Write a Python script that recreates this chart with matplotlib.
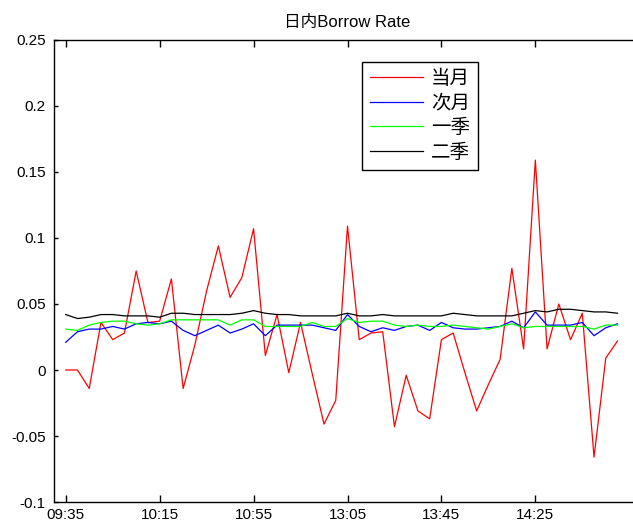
import numpy as np
import matplotlib
matplotlib.use("Agg")
import matplotlib.pyplot as plt

plt.rcParams['font.family'] = ['Liberation Sans', 'Noto Sans CJK SC', 'DejaVu Sans']

# 5-minute bars, 09:35-11:30 and 13:05-15:00
tick_pos = [0, 8, 16, 24, 32, 40]
tick_labels = ['09:35', '10:15', '10:55', '13:05', '13:45', '14:25']

cur_month = [0.000, 0.000, -0.014, 0.036, 0.023, 0.028, 0.075, 0.036, 0.037, 0.069,
             -0.014, 0.019, 0.060, 0.094, 0.055, 0.070, 0.107, 0.011, 0.042, -0.002,
             0.036, -0.003, -0.041, -0.023, 0.109, 0.023, 0.028, 0.029, -0.043, -0.004,
             -0.031, -0.037, 0.023, 0.028, -0.002, -0.031, -0.011, 0.008, 0.077, 0.016,
             0.159, 0.016, 0.050, 0.023, 0.043, -0.066, 0.009, 0.022]
next_month = [0.021, 0.029, 0.031, 0.031, 0.033, 0.031, 0.035, 0.036, 0.035, 0.037,
              0.030, 0.026, 0.030, 0.034, 0.028, 0.031, 0.035, 0.026, 0.034, 0.034,
              0.034, 0.034, 0.032, 0.030, 0.042, 0.033, 0.029, 0.032, 0.030, 0.033,
              0.034, 0.030, 0.036, 0.032, 0.031, 0.031, 0.032, 0.033, 0.037, 0.032,
              0.044, 0.034, 0.034, 0.034, 0.036, 0.026, 0.032, 0.035]
quarter1 = [0.031, 0.030, 0.034, 0.036, 0.037, 0.037, 0.035, 0.034, 0.035, 0.038,
            0.038, 0.038, 0.038, 0.038, 0.034, 0.038, 0.038, 0.033, 0.033, 0.033,
            0.033, 0.036, 0.033, 0.033, 0.039, 0.036, 0.037, 0.037, 0.034, 0.033,
            0.034, 0.033, 0.033, 0.034, 0.033, 0.032, 0.031, 0.033, 0.035, 0.032,
            0.033, 0.033, 0.033, 0.033, 0.033, 0.031, 0.034, 0.034]
quarter2 = [0.042, 0.039, 0.040, 0.042, 0.042, 0.041, 0.041, 0.041, 0.040, 0.043,
            0.043, 0.042, 0.042, 0.042, 0.042, 0.043, 0.045, 0.043, 0.042, 0.042,
            0.041, 0.041, 0.041, 0.041, 0.043, 0.041, 0.041, 0.042, 0.041, 0.041,
            0.041, 0.041, 0.041, 0.043, 0.042, 0.041, 0.041, 0.041, 0.041, 0.043,
            0.045, 0.044, 0.046, 0.046, 0.045, 0.044, 0.044, 0.043]
names = ['当月', '次月', '一季', '二季']

x = np.arange(len(cur_month))

fig = plt.figure(figsize=(6.33, 5.29), dpi=100)
ax = fig.add_axes([54 / 633, 27 / 529, 587 / 633, 462 / 529])

ax.plot(x, cur_month, color='#ff0000', lw=0.9, label=names[0])
ax.plot(x, next_month, color='#0000ff', lw=0.9, label=names[1])
ax.plot(x, quarter1, color='#00ff00', lw=0.9, label=names[2])
ax.plot(x, quarter2, color='#000000', lw=0.9, label=names[3])

ax.set_xlim(-1, 49)
ax.set_ylim(-0.1, 0.25)
ax.set_xticks(tick_pos)
ax.set_xticklabels(tick_labels)
ax.set_yticks([-0.1, -0.05, 0, 0.05, 0.1, 0.15, 0.2, 0.25])
ax.set_yticklabels(['-0.1', '-0.05', '0', '0.05', '0.1', '0.15', '0.2', '0.25'])
ax.tick_params(axis='x', direction='in', top=True, length=5, width=1, pad=4, labelsize=11)
ax.tick_params(axis='y', direction='in', right=True, length=3, width=1, pad=6, labelsize=11)
for s in ax.spines.values():
    s.set_linewidth(1.0)

ax.set_title('日内Borrow Rate', fontsize=12, pad=9)

leg = ax.legend(loc='upper left', bbox_to_anchor=(0.524, 0.953), borderaxespad=0,
                fontsize=14, handlelength=2.75, handletextpad=0.4, labelspacing=0.33,
                borderpad=0.42, fancybox=False, framealpha=1, edgecolor='black')
leg.get_frame().set_linewidth(1.0)
for t in leg.get_texts():
    t.set_fontweight('light')

fig.savefig('out.png', dpi=100)
